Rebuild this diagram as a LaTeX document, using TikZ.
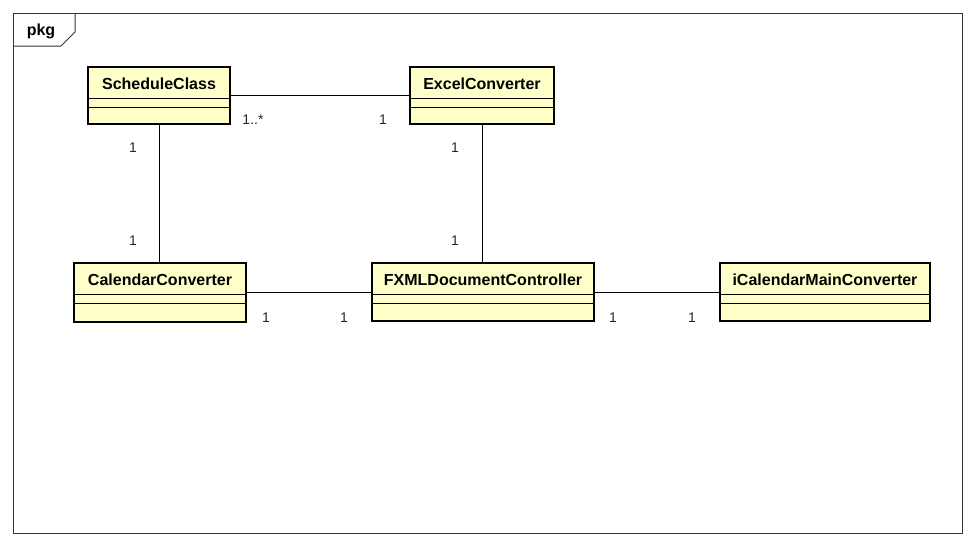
\documentclass[tikz,border=0pt]{standalone}
\usepackage{fontspec}
\setmainfont{Liberation Sans}
\usetikzlibrary{calc}
\definecolor{clsfill}{HTML}{FFFFCA}
\tikzset{
  cls/.style={draw=black, line width=2pt, fill=clsfill, rectangle, anchor=north west, inner sep=0pt},
  clsname/.style={font=\fontsize{16}{16}\selectfont\bfseries, inner sep=0pt},
  compart/.style={line width=1pt, draw=black},
  assoc/.style={line width=1pt, draw=black},
  mult/.style={font=\fontsize{14}{14}\selectfont, text=black!85, inner sep=0pt},
  frame/.style={line width=1pt, draw=black!80},
}
% one class box with a name row and two empty compartments
\newcommand{\umlcls}[6]{%
  \node[cls, minimum width=#4pt, minimum height=#5pt] (#1) at (#2,#3) {};
  \node[clsname] (#1-name) at ($(#1.north)+(0,17.5)$) {#6};
  \draw[compart] ($(#1.north west)+(0,32)$) -- ($(#1.north east)+(0,32)$);
  \draw[compart] ($(#1.north west)+(0,41.5)$) -- ($(#1.north east)+(0,41.5)$);
}
\begin{document}
\begin{tikzpicture}[x=1pt,y=-1pt]
  \useasboundingbox (0,0) rectangle (976,546);
  \fill[white] (0,0) rectangle (976,546);
  % package frame with name tab
  \draw[frame] (13,13) rectangle (962,533);
  \draw[frame] (13,46) -- (61,46) -- (75,32) -- (75,13);
  \node[font=\fontsize{16}{16}\selectfont\bfseries, inner sep=0pt] (pkgname) at (41,31) {pkg};

  % classes
  \umlcls{sc}{87}{66}{142}{57}{ScheduleClass}
  \umlcls{ex}{409}{66}{144}{57}{ExcelConverter}
  \umlcls{cal}{73}{262}{172}{59}{CalendarConverter}
  \umlcls{fx}{371}{262}{222}{58}{FXMLDocumentController}
  \umlcls{ical}{719}{262}{210}{58}{iCalendarMainConverter}

  % associations
  \draw[assoc] (sc.east) -- (ex.west);
  \draw[assoc] (sc.south) -- (sc.south |- cal.north);
  \draw[assoc] (ex.south) -- (ex.south |- fx.north);
  \draw[assoc] (cal.east) -- (cal.east -| fx.west);
  \draw[assoc] (fx.east) -- (fx.east -| ical.west);

  % multiplicities
  \node[mult] (m1) at (253,120) {1..*};
  \node[mult] (m2) at (383,120) {1};
  \node[mult] (m3) at (133,148) {1};
  \node[mult] (m4) at (133,241) {1};
  \node[mult] (m5) at (455,148) {1};
  \node[mult] (m6) at (455,241) {1};
  \node[mult] (m7) at (266,318) {1};
  \node[mult] (m8) at (344,318) {1};
  \node[mult] (m9) at (613,318) {1};
  \node[mult] (m10) at (692,318) {1};
\end{tikzpicture}
\end{document}
